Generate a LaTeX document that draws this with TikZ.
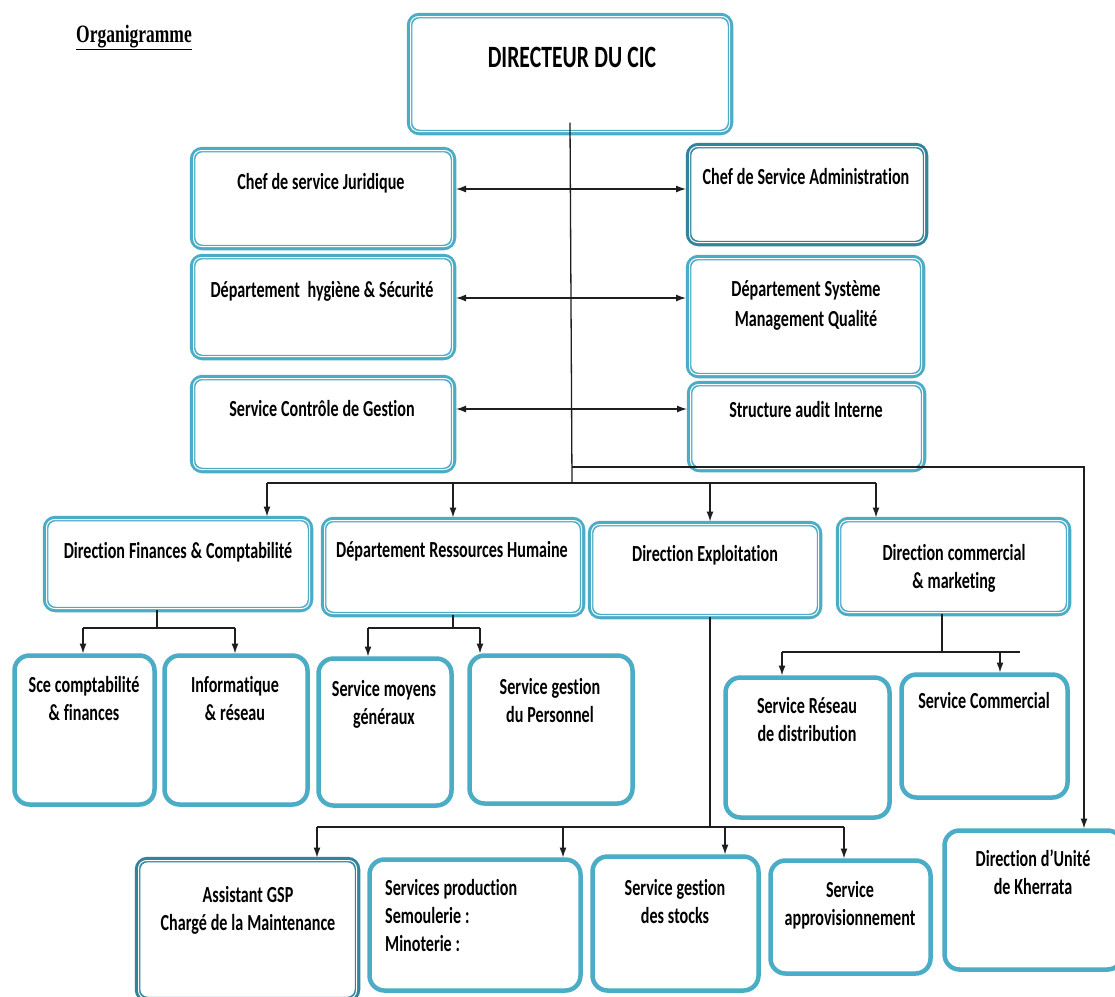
\documentclass[tikz,border=0pt]{standalone}
\usepackage{fontspec}
\setmainfont{Carlito}
\newfontfamily\calfont[FakeStretch=0.7, Ligatures=NoCommon, Contextuals=NoAlternate]{Carlito}
\newfontfamily\serfont[FakeStretch=0.7]{Liberation Serif}
\newcommand\tightsp{\fontdimen2\font=0.17em\fontdimen3\font=0pt\fontdimen4\font=0pt}
\newcommand\boxfont{\calfont\bfseries\fontsize{23}{28}\selectfont\tightsp}
\usetikzlibrary{arrows.meta,calc}
\definecolor{tealL}{RGB}{75,172,198}
\definecolor{tealD}{RGB}{49,132,155}
\definecolor{lineC}{RGB}{30,30,30}
\tikzset{
 dbox/.style={draw=tealL, line width=5.5pt, rounded corners=10pt, fill=white, inner sep=0pt, outer sep=0pt},
 dboxD/.style={dbox, draw=tealD},
 sbox/.style={draw=tealL, line width=4.5pt, rounded corners=15pt, fill=white, inner sep=0pt, outer sep=0pt},
 txt/.style={font=\boxfont, anchor=base, text width=300pt, align=flush center, inner sep=0pt},
 txtl/.style={txt, anchor=base west, align=flush left},
 conn/.style={draw=lineC, line width=1.3pt},
 arr/.style={conn, -{Latex[length=10pt,width=7pt]}, shorten >=2pt},
 barr/.style={conn, {Latex[length=10pt,width=7pt]}-{Latex[length=10pt,width=7pt]}, shorten >=2.5pt, shorten <=2.5pt},
 inline/.style={draw=white, line width=1pt, rounded corners=8pt},
}
\newcommand\mkbox[6]{\node[#1, minimum width={#5-#3-5}, minimum height={#6-#4-5}] (#2) at ({(#3+#5)/2},{(#4+#6)/2}) {};}
\newcommand\inl[1]{\draw[inline] ([shift={(1,-1)}]#1.south west) rectangle ([shift={(-1,1)}]#1.north east);}
\begin{document}
\begin{tikzpicture}[x=1pt,y=-1pt]
\clip (0,0) rectangle (1115,996);
\fill[white] (0,0) rectangle (1115,996);
% title
\node[font=\serfont\bfseries\fontsize{25}{30}\selectfont\tightsp, anchor=base, inner sep=0pt] (title) at (134,42) {\underline{Organigramme}};
% boxes
\mkbox{dbox}{dir}{407}{13}{733}{135}
\mkbox{dbox}{jur}{190}{147}{456}{250}
\mkbox{dboxD}{adm}{686}{143}{928}{246}
\mkbox{dbox}{hyg}{190}{254}{456}{360}
\mkbox{dbox}{sys}{686}{255}{925}{378}
\mkbox{dbox}{ctrl}{190}{375}{456}{473}
\mkbox{dbox}{aud}{687}{381}{926}{472}
\mkbox{dbox}{fin}{43}{516}{313}{612}
\mkbox{dbox}{rh}{321}{517}{585}{617}
\mkbox{dbox}{expl}{588}{521}{822}{619}
\mkbox{dbox}{com}{836}{517}{1071}{616}
\mkbox{sbox}{sce}{12}{653}{157}{807}
\mkbox{sbox}{inf}{162}{653}{310}{807}
\mkbox{sbox}{moy}{316}{656}{454}{808}
\mkbox{sbox}{per}{467}{653}{635}{806}
\mkbox{sbox}{res}{723}{675}{892}{820}
\mkbox{sbox}{svc}{899}{672}{1070}{800}
\mkbox{dboxD}{asst}{135}{857}{360}{1002}
\mkbox{sbox}{prod}{367}{857}{583}{993}
\mkbox{sbox}{stk}{590}{854}{761}{993}
\mkbox{sbox}{app}{768}{858}{933}{976}
\mkbox{sbox}{kh}{942}{828}{1125}{972}
\foreach \b in {dir,jur,adm,hyg,sys,ctrl,aud,fin,rh,expl,com,asst}{\inl{\b}}
% junction coordinates
\coordinate (sp0) at ([yshift=10pt]dir.south);
\coordinate (jA) at (572,467);
\coordinate (jB) at (572,483);
\coordinate (kA) at (1084,467);
\coordinate (r1) at (572,189);
\coordinate (r2) at (572,298);
\coordinate (r3) at (572,409);
\coordinate (b1) at (267,483);
\coordinate (b2) at (453,483);
\coordinate (b3) at (710,483);
\coordinate (b4) at (876,483);
\coordinate (f0) at (157,628);
\coordinate (f1) at (83,628);
\coordinate (f2) at (235,628);
\coordinate (g0) at (453,628);
\coordinate (g1) at (368,628);
\coordinate (g2) at (480,628);
\coordinate (e0) at (710,827);
\coordinate (e1) at (317,827);
\coordinate (e2) at (563,827);
\coordinate (e3) at (725,827);
\coordinate (e4) at (844,827);
\coordinate (c0) at (942,652);
\coordinate (c1) at (782,652);
\coordinate (c2) at (1000,652);
\coordinate (c3) at (1020,652);
% connectors
\draw[conn] (sp0) -- (jB);
\draw[barr] (jur.east |- r1) -- (adm.west |- r1);
\draw[barr] (hyg.east |- r2) -- (sys.west |- r2);
\draw[barr] (ctrl.east |- r3) -- (aud.west |- r3);
\draw[arr] (jA) -- (kA) -- (kA |- kh.north);
\draw[conn] (b1) -- (b4);
\draw[arr] (b1) -- (b1 |- fin.north);
\draw[arr] (b2) -- (b2 |- rh.north);
\draw[arr] (b3) -- (b3 |- expl.north);
\draw[arr] (b4) -- (b4 |- com.north);
\draw[conn] (f0 |- fin.south) -- (f0);
\draw[conn] (f1) -- (f2);
\draw[arr] (f1) -- (f1 |- sce.north);
\draw[arr] (f2) -- (f2 |- inf.north);
\draw[conn] (g0 |- rh.south) -- (g0);
\draw[conn] (g1) -- (g2);
\draw[arr] (g1) -- (g1 |- moy.north);
\draw[arr] (g2) -- (g2 |- per.north);
\draw[conn] (e0 |- expl.south) -- (e0);
\draw[conn] (e1) -- (e4);
\draw[arr] (e1) -- (e1 |- asst.north);
\draw[arr] (e2) -- (e2 |- prod.north);
\draw[arr] (e3) -- (e3 |- stk.north);
\draw[arr] (e4) -- (e4 |- app.north);
\draw[conn] (c0 |- com.south) -- (c0);
\draw[conn] (c1) -- (c3);
\draw[arr] (c1) -- (c1 |- res.north);
\draw[arr] (c2) -- (c2 |- svc.north);
% texts
\node[txt, font=\calfont\bfseries\fontsize{31}{36}\selectfont\tightsp] (dirT) at (572,67) {DIRECTEUR DU CIC};
\node[txt] (jurT) at (321,189) {Chef de service Juridique};
\node[txt] (admT) at (806,184) {Chef de Service Administration};
\node[txt] (hygT) at (322,297) {Département\ \ hygiène \& Sécurité};
\node[txt, font=\calfont\bfseries\fontsize{23}{30}\selectfont\tightsp] (sysT) at (806,296) {Département Système\\Management Qualité};
\node[txt] (ctrlT) at (322,416) {Service Contrôle de Gestion};
\node[txt] (audT) at (806,417) {Structure audit Interne};
\node[txt] (finT) at (178,558) {Direction Finances \& Comptabilité};
\node[txt] (rhT) at (452,557) {Département Ressources Humaine};
\node[txt] (explT) at (705,561) {Direction Exploitation};
\node[txt] (comT) at (954,560) {Direction commercial\\\& marketing};
\node[txt] (sceT) at (84,692) {Sce comptabilité\\\& finances};
\node[txt] (infT) at (235,692) {Informatique\\\& réseau};
\node[txt] (moyT) at (384,696) {Service moyens\\généraux};
\node[txt] (perT) at (550,694) {Service gestion\\du Personnel};
\node[txt] (resT) at (807,713) {Service Réseau\\de distribution};
\node[txt] (svcT) at (984,708) {Service Commercial};
\node[txt] (asstT) at (248,902) {Assistant GSP\\Chargé de la Maintenance};
\node[txtl] (prodT) at (385,895) {Services production\\Semoulerie :\\Minoterie :};
\node[txt] (stkT) at (675,895) {Service gestion\\des stocks};
\node[txt] (appT) at (850,897) {Service\\approvisionnement};
\node[txt] (khT) at (1033,866) {Direction d’Unité\\de Kherrata};
\end{tikzpicture}
\end{document}
